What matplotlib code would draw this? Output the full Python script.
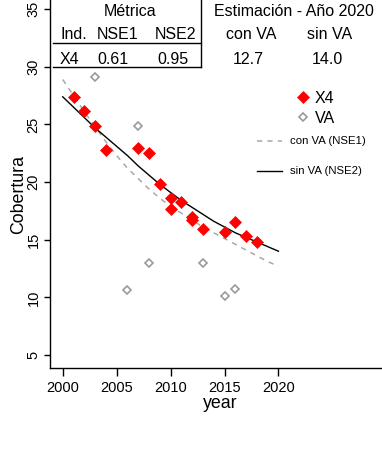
import matplotlib
matplotlib.use("Agg")
import matplotlib.pyplot as plt
from matplotlib.lines import Line2D

plt.rcParams["font.family"] = ["Liberation Sans", "DejaVu Sans"]

# Observed coverage (X4 index) and field values (VA)
x4_years = [2001, 2002, 2003, 2004, 2007, 2008, 2009, 2010, 2010, 2011,
            2012, 2012, 2013, 2015, 2016, 2017, 2018]
x4_values = [27.4, 26.15, 24.85, 22.75, 22.95, 22.55, 19.85, 18.6, 17.7, 18.3,
             17.0, 16.7, 15.9, 15.7, 16.5, 15.35, 14.8]

va_years = [2003, 2006, 2007, 2008, 2013, 2015, 2016]
va_values = [29.1, 10.65, 24.9, 12.95, 13.0, 10.15, 10.75]

# Fitted trends, with and without VA
fit_years = list(range(2000, 2021))
fit_con_va = [28.9, 27.5, 26.1, 24.8, 23.5, 22.3, 21.2, 20.3, 19.4, 18.6, 17.9,
              17.3, 16.7, 16.1, 15.6, 15.1, 14.6, 14.1, 13.6, 13.1, 12.7]
fit_sin_va = [27.4, 26.5, 25.6, 24.7, 23.9, 23.1, 22.3, 21.4, 20.6, 19.8, 19.1,
              18.4, 17.8, 17.2, 16.6, 16.1, 15.6, 15.2, 14.8, 14.4, 14.0]

# Summary table
table_index = "X4"
nse1 = 0.61
nse2 = 0.95
est_con_va = fit_con_va[-1]
est_sin_va = fit_sin_va[-1]

x_ticks = [2000, 2005, 2010, 2015, 2020]
y_ticks = [5, 10, 15, 20, 25, 30, 35]

W, H = 382, 450
fig = plt.figure(figsize=(W / 100, H / 100), dpi=100)
ax = fig.add_axes([50 / W, (H - 368.3) / H, (W - 50) / W, 368.3 / H])

GREY_LINE = "#a8a8a8"
GREY_PT = "#9a9a9a"

ax.plot(fit_years, fit_con_va, color=GREY_LINE, lw=1.1, dashes=(3.4, 3.4), zorder=2)
ax.plot(fit_years, fit_sin_va, color="black", lw=1.0, zorder=3)
ax.plot(va_years, va_values, ls="none", marker="D", ms=4.4, mfc="white",
        mec=GREY_PT, mew=1.2, zorder=4)
ax.plot(x4_years, x4_values, ls="none", marker="D", ms=5.8, mfc="red",
        mec="red", mew=0.5, zorder=5)

ax.set_xlim(1998.82, 2029.6)
ax.set_ylim(3.84, 35.8)
ax.set_xticks(x_ticks)
ax.set_yticks(y_ticks)
for side in ("top", "right"):
    ax.spines[side].set_visible(False)
for side in ("left", "bottom"):
    ax.spines[side].set_linewidth(1.0)
ax.tick_params(axis="x", length=5.4, width=1.0, pad=3.8, labelsize=10.5)
ax.tick_params(axis="y", length=4.3, width=1.0, pad=2.5, labelsize=10.5,
               labelrotation=90)
for lab in ax.get_yticklabels():
    lab.set_va("center")

ax.set_xlabel("year", fontsize=12.8)
ax.xaxis.label.set_va("baseline")
ax.xaxis.set_label_coords((220 - 50) / 332, -(407.5 - 368.3) / 368.3)
ax.set_ylabel("Cobertura", fontsize=12.8)
ax.yaxis.label.set_va("baseline")
ax.yaxis.set_label_coords((23.5 - 50) / 332, (368.3 - 194) / 368.3)


def fx(px):
    return px / W


def fy(py):
    return 1 - py / H


def put(px, py, s, size=11.5, ha="center"):
    fig.text(fx(px), fy(py), s, fontsize=size, ha=ha, va="baseline")


def seg(x0, x1, y0, y1, **kw):
    fig.add_artist(Line2D([fx(x0), fx(x1)], [fy(y0), fy(y1)],
                          transform=fig.transFigure, **kw))


# Table header and values
put(130.5, 15.5, "Métrica")
put(294, 15.5, "Estimación - Año 2020")
put(60, 39.3, "Ind.", ha="left")
put(118, 39.3, "NSE1")
put(176, 39.3, "NSE2")
put(251, 39.3, "con VA")
put(330, 39.3, "sin VA")
put(60, 64, table_index, ha="left")
put(112.5, 64, f"{nse1:.2f}")
put(172.5, 64, f"{nse2:.2f}")
put(248, 64, f"{est_con_va:.1f}")
put(327, 64, f"{est_sin_va:.1f}")
seg(200.7, 200.7, 0, 67.3, color="black", lw=1.0)
seg(53, 200.7, 42.7, 42.7, color="black", lw=1.0)
seg(53, 200.7, 67.3, 67.3, color="black", lw=1.0)

# Legend
fig.add_artist(Line2D([fx(302.7)], [fy(97.3)], transform=fig.transFigure,
                      ls="none", marker="D", ms=5.8, mfc="red", mec="red", mew=0.5))
put(315, 102.7, "X4", ha="left")
fig.add_artist(Line2D([fx(302.7)], [fy(116.7)], transform=fig.transFigure,
                      ls="none", marker="D", ms=4.4, mfc="white", mec=GREY_PT, mew=1.2))
put(315, 122.7, "VA", ha="left")
seg(257, 282, 140.7, 140.7, color=GREY_LINE, lw=1.1, dashes=(3.4, 3.4))
put(290, 144.3, "con VA (NSE1)", size=8.2, ha="left")
seg(257, 282, 170.7, 170.7, color="black", lw=1.0)
put(290, 174.3, "sin VA (NSE2)", size=8.2, ha="left")

fig.savefig("out.png", dpi=100)
